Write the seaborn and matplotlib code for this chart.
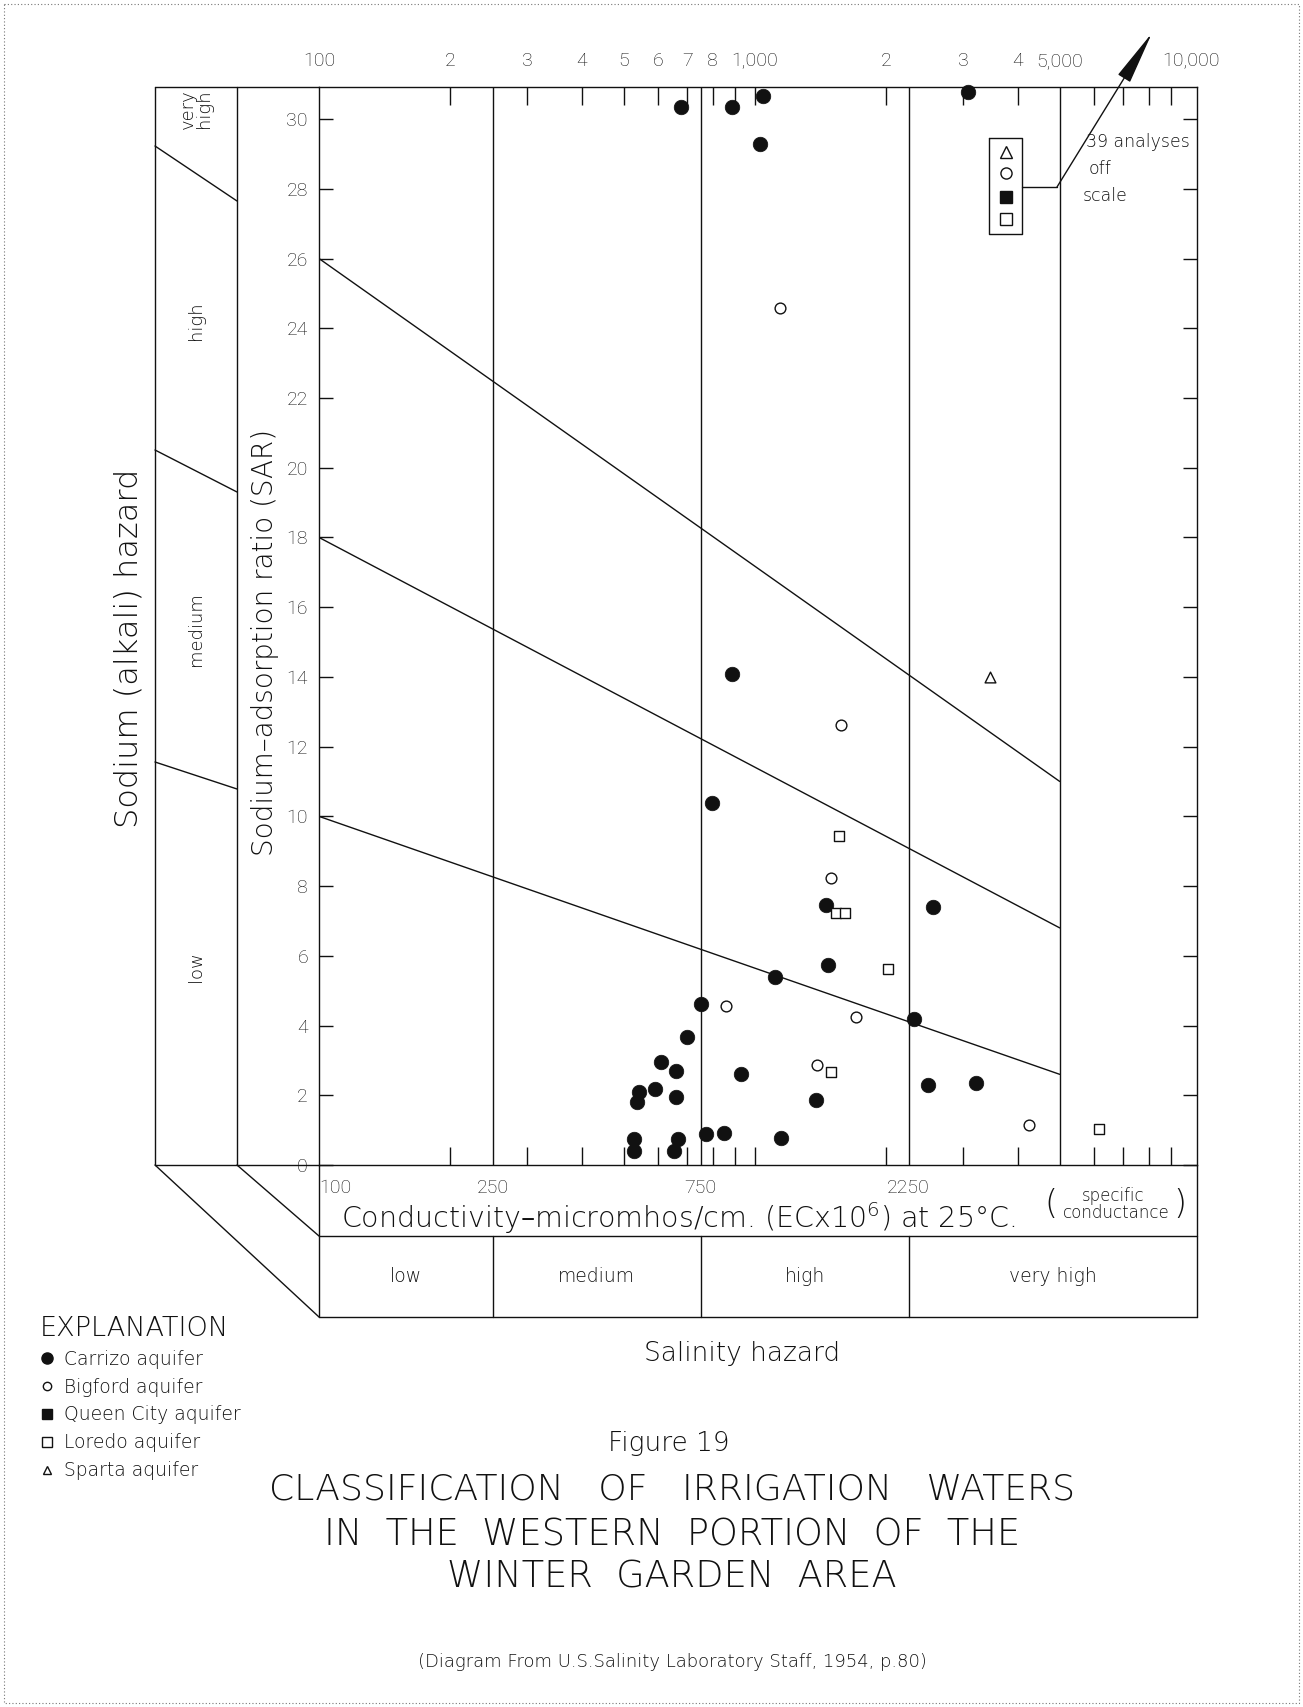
import matplotlib
matplotlib.use('Agg')
import matplotlib.pyplot as plt
import seaborn as sns
import pandas as pd
from matplotlib.lines import Line2D
from matplotlib.ticker import FixedLocator, NullFormatter, NullLocator

# ---- data (EC in micromhos/cm, SAR) ----
carrizo_ec = [675, 884, 1041, 1027, 3085, 885, 798, 1455, 2564, 1468, 1112, 753, 699, 2312,
              610, 659, 543, 537, 591, 659, 931, 1377, 2494, 3206, 528, 528, 665, 651, 771, 849, 1150]
carrizo_sar = [30.35, 30.35, 30.66, 29.28, 30.78, 14.08, 10.37, 7.46, 7.40, 5.74, 5.40, 4.62, 3.68, 4.18,
               2.94, 2.70, 2.10, 1.80, 2.18, 1.94, 2.60, 1.86, 2.29, 2.34, 0.74, 0.40, 0.76, 0.41, 0.88, 0.91, 0.78]
bigford_ec = [1144, 1576, 1496, 859, 1707, 1385, 4240]
bigford_sar = [24.57, 12.61, 8.24, 4.56, 4.25, 2.87, 1.16]
laredo_ec = [1558, 1531, 1611, 2015, 1495, 6150]
laredo_sar = [9.43, 7.24, 7.24, 5.62, 2.68, 1.03]
sparta_ec = [3451]
sparta_sar = [13.99]

# class boundaries
salinity_bounds = [250, 750, 2250, 5000]
salinity_classes = ['low', 'medium', 'high', 'very high']
sar_line_start = [26, 18, 10]     # SAR at EC = 100
sar_line_end = [11.0, 6.8, 2.6]   # SAR at EC = 5000

# axis ticks
top_ticks = [100, 200, 300, 400, 500, 600, 700, 800, 1000, 2000, 3000, 4000, 5000, 10000]
top_labels = ['100', '2', '3', '4', '5', '6', '7', '8', '1,000', '2', '3', '4', '5,000', '10,000']
minor_ticks = [200, 300, 400, 500, 600, 700, 800, 900, 1000, 2000, 3000, 4000, 6000, 7000, 8000, 9000]
bottom_ticks = [100, 250, 750, 2250]
bottom_labels = ['100', '250', '750', '2250']
y_ticks = list(range(0, 31, 2))

legend_labels = ['Carrizo aquifer', 'Bigford aquifer', 'Queen City aquifer', 'Loredo aquifer', 'Sparta aquifer']

sns.set_style('white')
plt.rcParams['font.family'] = ['Roboto', 'DejaVu Sans']
plt.rcParams['font.weight'] = 'light'
plt.rcParams['mathtext.default'] = 'regular'

WIDE = ['DejaVu Sans']
W, H = 1303, 1707
INK = '#111111'
LW = 1.0


def px(x, y):
    # pixel position (from top-left) -> figure fraction
    return x / W, 1 - y / H


def fline(xs, ys, **kw):
    pts = [px(x, y) for x, y in zip(xs, ys)]
    fig.add_artist(Line2D([p[0] for p in pts], [p[1] for p in pts], color=kw.get('color', INK),
                          lw=kw.get('lw', LW), ls=kw.get('ls', '-'), transform=fig.transFigure))


def ftext(x, y, s, **kw):
    fx, fy = px(x, y)
    kw.setdefault('family', WIDE)
    kw.setdefault('fontweight', 'light')
    fig.text(fx, fy, s, color=INK, **kw)


fig = plt.figure(figsize=(W / 100, H / 100), dpi=100)
ax_l, ax_r, ax_t, ax_b = 319, 1197, 87, 1165
ax = fig.add_axes([ax_l / W, 1 - ax_b / H, (ax_r - ax_l) / W, (ax_b - ax_t) / H])

ax.set_xscale('log')
ax.set_xlim(100, 10320)
ax.set_ylim(0, 30.92)

# class lines
for b in salinity_bounds:
    ax.axvline(b, color=INK, lw=LW, zorder=1)
for s0, s1 in zip(sar_line_start, sar_line_end):
    ax.plot([100, 5000], [s0, s1], color=INK, lw=LW, zorder=1)

# points
pts = pd.DataFrame({
    'ec': carrizo_ec + bigford_ec + laredo_ec + sparta_ec,
    'sar': carrizo_sar + bigford_sar + laredo_sar + sparta_sar,
    'aquifer': ['Carrizo'] * len(carrizo_ec) + ['Bigford'] * len(bigford_ec)
               + ['Laredo'] * len(laredo_ec) + ['Sparta'] * len(sparta_ec),
})
styles = {
    'Carrizo': dict(marker='o', s=110, color=INK, edgecolor=INK, linewidth=0.5),
    'Bigford': dict(marker='o', s=60, color='white', edgecolor=INK, linewidth=1.0),
    'Laredo': dict(marker='s', s=60, color='white', edgecolor=INK, linewidth=1.0),
    'Sparta': dict(marker='^', s=60, color='white', edgecolor=INK, linewidth=1.0),
}
for name, st in styles.items():
    sub = pts[pts['aquifer'] == name]
    sns.scatterplot(data=sub, x='ec', y='sar', ax=ax, legend=False, clip_on=False, zorder=4, **st)

ax.set_xlabel('')

# x ticks
ax.set_xticks(bottom_ticks, labels=bottom_labels)
ax.xaxis.set_minor_locator(FixedLocator(minor_ticks))
ax.xaxis.set_minor_formatter(NullFormatter())
ax.tick_params(axis='x', which='major', length=0, pad=10, labelsize=14, colors=INK)
ax.tick_params(axis='x', which='minor', direction='in', length=13, width=LW, top=True, bottom=True, color=INK)
ax.get_xticklabels()[0].set_horizontalalignment('left')

sec = ax.secondary_xaxis('top')
sec.set_xticks(top_ticks, labels=top_labels)
sec.xaxis.set_minor_locator(NullLocator())
sec.tick_params(axis='x', length=0, pad=12, labelsize=14, colors=INK)
for sp in sec.spines.values():
    sp.set_visible(False)

# y ticks
ax.set_yticks(y_ticks)
ax.tick_params(axis='y', direction='in', length=10, width=LW, right=True, left=True, pad=8, labelsize=14,
               colors=INK)
for sp in ax.spines.values():
    sp.set_color(INK)
    sp.set_linewidth(LW)

ax.set_ylabel('Sodium–adsorption ratio (SAR)', fontsize=20, color=INK, family=WIDE, fontweight='light')
ax.yaxis.set_label_coords(-0.045, 0.485)

# salinity hazard box below the axis
xt = ax.get_xaxis_transform()
y_box_top = (ax_b - 1236) / (ax_b - ax_t)
y_box_bot = (ax_b - 1317) / (ax_b - ax_t)
for b in salinity_bounds[:3]:
    ax.plot([b, b], [y_box_top, y_box_bot], transform=xt, clip_on=False, color=INK, lw=LW)
class_edges = [100] + salinity_bounds[:3] + [10320]
for i, lab in enumerate(salinity_classes):
    mid = (class_edges[i] * class_edges[i + 1]) ** 0.5
    ax.text(mid, (y_box_top + y_box_bot) / 2, lab, transform=xt, ha='center', va='center', fontsize=13.5,
            color=INK, family=WIDE, fontweight='light')

# frame decorations (sodium hazard side panel, perspective)
fline([155, ax_l], [ax_t, ax_t])
fline([155, ax_l], [ax_b, ax_b])
fline([155, 155], [ax_t, ax_b])
fline([237, 237], [ax_t, ax_b])
fline([155, ax_l], [ax_b, 1317])
fline([237, ax_l], [ax_b, 1236])
fline([ax_l, ax_l], [ax_b, 1317])
fline([ax_r, ax_r], [ax_b, 1317])
fline([ax_l, ax_r], [1236, 1236])
fline([ax_l, ax_r], [1317, 1317])
fline([155, 237], [146, 201])
fline([155, 237], [450, 492])
fline([155, 237], [762, 789])

ftext(196, 109, 'very\nhigh', rotation=90, ha='center', va='center', fontsize=13, linespacing=0.9)
ftext(196, 321, 'high', rotation=90, ha='center', va='center', fontsize=13)
ftext(196, 629, 'medium', rotation=90, ha='center', va='center', fontsize=13)
ftext(196, 967, 'low', rotation=90, ha='center', va='center', fontsize=13)
ftext(128, 648, 'Sodium (alkali) hazard', rotation=90, ha='center', va='center', fontsize=23)

ftext(341, 1218, 'Conductivity–micromhos/cm. (ECx10$^6$) at 25°C.', ha='left', va='center', fontsize=20.5)
ftext(1113, 1196, 'specific', ha='center', va='center', fontsize=12)
ftext(1116, 1213, 'conductance', ha='center', va='center', fontsize=12)
ftext(1051, 1204, '(', ha='center', va='center', fontsize=24)
ftext(1180, 1204, ')', ha='center', va='center', fontsize=24)
ftext(742, 1353, 'Salinity hazard', ha='center', va='center', fontsize=19)

# off-scale callout
fline([989, 1022, 1022, 989, 989], [138, 138, 234, 234, 138])
for (mk, fc), yy in zip([('^', 'white'), ('o', 'white'), ('s', INK), ('s', 'white')], [152, 173, 197, 219]):
    fx, fy = px(1006, yy)
    fig.add_artist(Line2D([fx], [fy], marker=mk, ms=8, mfc=fc, mec=INK, mew=1.0, ls='',
                          transform=fig.transFigure))
fline([1022, 1057], [187, 187])
ax.annotate('', xy=px(1152, 33), xytext=px(1057, 187), xycoords='figure fraction',
            textcoords='figure fraction',
            arrowprops=dict(arrowstyle='-|>,head_length=3.4,head_width=0.45', color=INK, lw=LW,
                            shrinkA=0, shrinkB=0, mutation_scale=10))
ftext(1086, 142, '39 analyses', ha='left', va='center', fontsize=12.5)
ftext(1089, 169, 'off', ha='left', va='center', fontsize=12.5)
ftext(1083, 196, 'scale', ha='left', va='center', fontsize=12.5)

# explanation
handles = [
    Line2D([], [], marker='o', ls='', ms=8, mfc=INK, mec=INK),
    Line2D([], [], marker='o', ls='', ms=6, mfc='white', mec=INK),
    Line2D([], [], marker='s', ls='', ms=7, mfc=INK, mec=INK),
    Line2D([], [], marker='s', ls='', ms=7, mfc='white', mec=INK),
    Line2D([], [], marker='^', ls='', ms=6, mfc='white', mec=INK),
]
leg = fig.legend(handles, legend_labels, title='EXPLANATION', loc='upper left', bbox_to_anchor=px(40, 1316),
                 frameon=False, handlelength=0.7, handletextpad=0.6,
                 labelspacing=0.47, borderpad=0, borderaxespad=0, alignment='left',
                 prop=dict(family=WIDE, size=13.5, weight='light'),
                 title_fontproperties=dict(family=WIDE, size=19.5, weight='light'))
for t in leg.get_texts():
    t.set_color(INK)
leg.get_title().set_color(INK)

# titles
ftext(669, 1443, 'Figure 19', ha='center', va='center', fontsize=19)
ftext(672, 1490, 'CLASSIFICATION   OF   IRRIGATION   WATERS', ha='center', va='center', fontsize=26)
ftext(672, 1534, 'IN  THE  WESTERN  PORTION  OF  THE', ha='center', va='center', fontsize=26.5)
ftext(672, 1577, 'WINTER  GARDEN  AREA', ha='center', va='center', fontsize=26.5)
ftext(672, 1662, '(Diagram From U.S.Salinity Laboratory Staff, 1954, p.80)', ha='center', va='center',
      fontsize=13)

# page border
fline([4, 1299, 1299, 4, 4], [4, 4, 1703, 1703, 4], color='#777777', lw=0.8, ls=(0, (1, 2)))

fig.savefig('out.png', dpi=100)
